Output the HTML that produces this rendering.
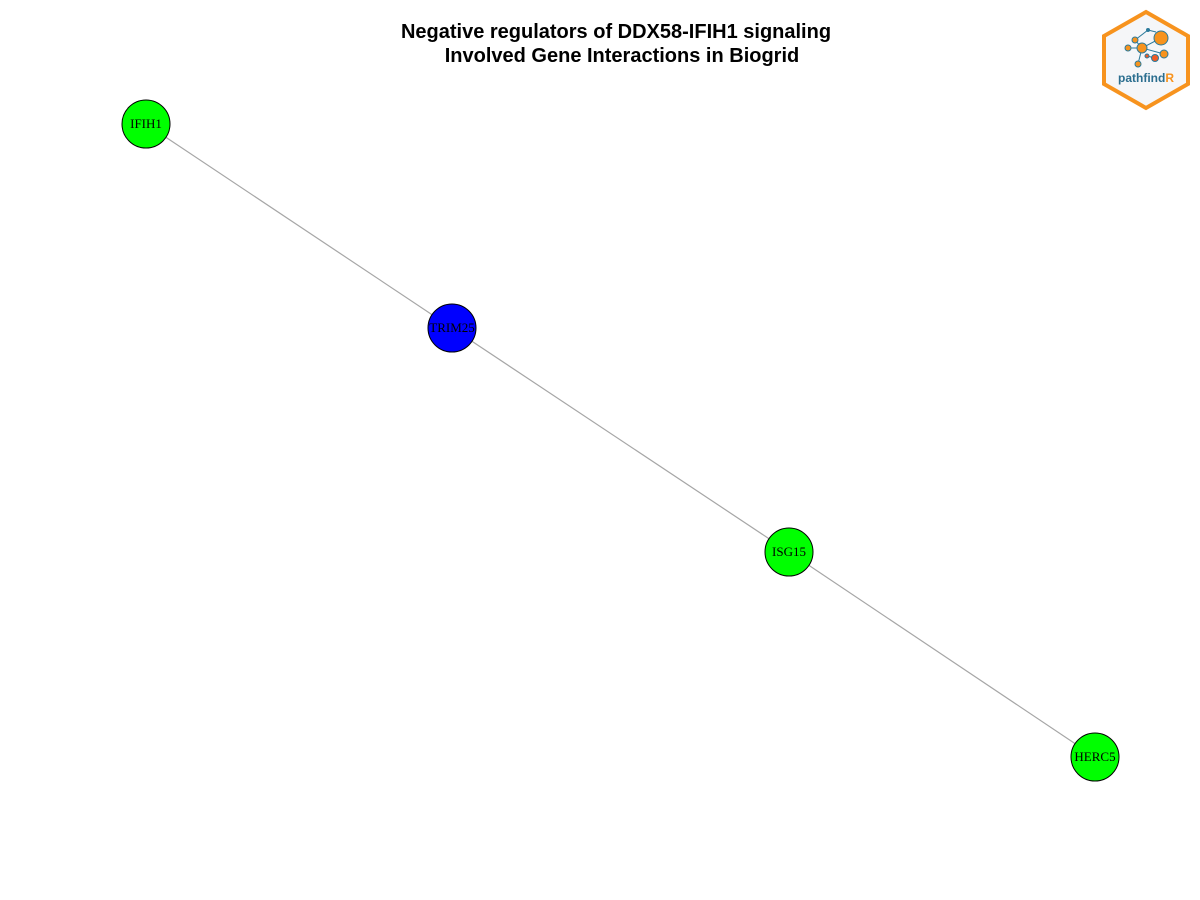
<!DOCTYPE html>
<html><head><meta charset="utf-8"><style>
body{margin:0;background:#fff}
svg{display:block}
</style></head><body>
<svg id="chart" width="1200" height="900" xmlns="http://www.w3.org/2000/svg">
<rect width="1200" height="900" fill="#fff"/>
<text x="616" y="38" text-anchor="middle" font-family="Liberation Sans, sans-serif" font-weight="bold" font-size="20">Negative regulators of DDX58-IFIH1 signaling</text>
<text x="622" y="62" text-anchor="middle" font-family="Liberation Sans, sans-serif" font-weight="bold" font-size="20">Involved Gene Interactions in Biogrid</text>
<g id="edges"></g>
<g id="nodes"></g>
<g>
<polygon points="1146,12 1188,36 1188,84 1146,108 1104,84 1104,36" fill="#f5f6f8" stroke="#f7931e" stroke-width="4"/>
<g stroke="#2b7a9b" stroke-width="1" fill="none">
<line x1="1142" y1="48" x2="1161" y2="38"/><line x1="1142" y1="48" x2="1135" y2="40"/><line x1="1142" y1="48" x2="1128" y2="48"/><line x1="1142" y1="48" x2="1164" y2="54"/><line x1="1142" y1="48" x2="1138" y2="64"/><line x1="1135" y1="40" x2="1148" y2="30"/><line x1="1148" y1="30" x2="1156" y2="32"/><line x1="1147" y1="56" x2="1155" y2="58"/>
</g>
<circle cx="1161" cy="38" r="7" fill="#f7931e" stroke="#2b7a9b"/>
<circle cx="1142" cy="48" r="5" fill="#f7931e" stroke="#2b7a9b"/>
<circle cx="1135" cy="40" r="3" fill="#f7931e" stroke="#2b7a9b"/>
<circle cx="1128" cy="48" r="3" fill="#f7931e" stroke="#2b7a9b"/>
<circle cx="1164" cy="54" r="4" fill="#f7931e" stroke="#2b7a9b"/>
<circle cx="1155" cy="58" r="3.5" fill="#f05a24" stroke="#2b7a9b"/>
<circle cx="1147" cy="56" r="2" fill="#f05a24" stroke="#2b7a9b"/>
<circle cx="1138" cy="64" r="3" fill="#f7931e" stroke="#2b7a9b"/>
<circle cx="1148" cy="30" r="2" fill="#2b7a9b"/>
<text x="1146" y="82" text-anchor="middle" font-family="Liberation Sans, sans-serif" font-weight="bold" font-size="12" fill="#2b6e8f">pathfind<tspan fill="#f7931e">R</tspan></text>
</g>
</svg>
<script>
const geneNames = ["IFIH1","TRIM25","ISG15","HERC5"];
const nodeX = [146,452,789,1095];
const nodeY = [124,328,552,757];
const nodeColors = ["#00ff00","#0000ff","#00ff00","#00ff00"];
const edgeFrom = [0,1,2];
const edgeTo = [1,2,3];
const NS="http://www.w3.org/2000/svg";
const eg=document.getElementById('edges'), ng=document.getElementById('nodes');
edgeFrom.forEach((f,i)=>{
  const t=edgeTo[i];
  const l=document.createElementNS(NS,'line');
  l.setAttribute('x1',nodeX[f]);l.setAttribute('y1',nodeY[f]);
  l.setAttribute('x2',nodeX[t]);l.setAttribute('y2',nodeY[t]);
  l.setAttribute('stroke','#a6a6a6');l.setAttribute('stroke-width','1.2');
  
  
  eg.appendChild(l);
});
geneNames.forEach((g,i)=>{
  const c=document.createElementNS(NS,'circle');
  c.setAttribute('cx',nodeX[i]);c.setAttribute('cy',nodeY[i]);c.setAttribute('r',24);
  c.setAttribute('fill',nodeColors[i]);c.setAttribute('stroke','#000');c.setAttribute('stroke-width','1');
  
  
  ng.appendChild(c);
  const t=document.createElementNS(NS,'text');
  t.setAttribute('x',nodeX[i]);t.setAttribute('y',nodeY[i]+4);
  t.setAttribute('text-anchor','middle');t.setAttribute('font-family','Liberation Serif, serif');t.setAttribute('font-size','13');
  t.textContent=g;
  
  
  ng.appendChild(t);
});
</script>
</body></html>
